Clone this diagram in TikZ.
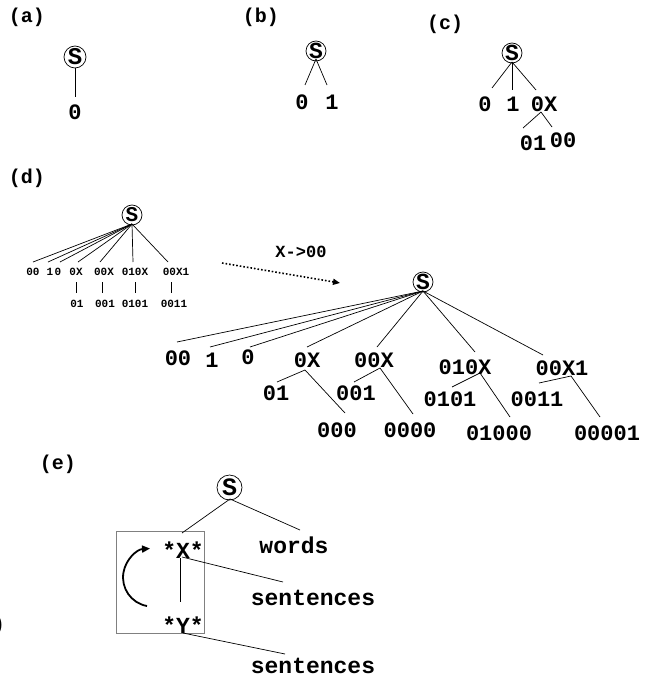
\documentclass[tikz,border=0pt]{standalone}
\usepackage{fontspec}
\newfontfamily\cour{Liberation Mono}
\usetikzlibrary{arrows.meta}
\newcommand{\rootletter}[1]{\makebox[0pt]{\smash{\raisebox{-0.32em}{#1}}}}
\begin{document}
\begin{tikzpicture}[x=1pt,y=-1pt,
  every node/.style={inner sep=0pt,outer sep=0pt},
  lbl/.style={font=\cour\bfseries\fontsize{20}{20}\selectfont},
  tA/.style={font=\cour\bfseries\fontsize{22}{22}\selectfont},
  tB/.style={font=\cour\bfseries\fontsize{22}{22}\selectfont},
  tS/.style={font=\cour\bfseries\fontsize{11}{11}\selectfont},
  tE/.style={font=\cour\bfseries\fontsize{23}{23}\selectfont},
  tR/.style={font=\cour\bfseries\fontsize{17}{17}\selectfont},
  root/.style={circle,draw,line width=0.7pt,minimum size=#1},
  root/.default=21pt,
  sfont/.style={font=\cour\bfseries\fontsize{#1}{#1}\selectfont},
  edge/.style={line width=0.7pt}]
\useasboundingbox (0,0) rectangle (655,680);

% ---------- (a)
\node[lbl] (la) at (27,17) {(a)};
\node[root=22pt,sfont=24] (sa) at (75,57) {\rootletter{S}};
\node[tA] (a0) at (75,112) {0};
\coordinate (a0t) at (75,97);
\draw[edge] (sa.south) -- (a0t);

% ---------- (b)
\node[lbl] (lb) at (261,17) {(b)};
\node[root=20pt,sfont=23] (sb) at (316,51) {\rootletter{S}};
\node[tA] (b0) at (302,102) {0};
\node[tA] (b1) at (332,102) {1};
\coordinate (bo) at (316,59);
\coordinate (b0t) at (305,85);
\coordinate (b1t) at (327,85);
\draw[edge] (bo) -- (b0t);
\draw[edge] (bo) -- (b1t);

% ---------- (c)
\node[lbl] (lc) at (445,24) {(c)};
\node[root=20pt,sfont=23] (sc) at (512,53) {\rootletter{S}};
\node[tA] (c0) at (485,104) {0};
\node[tA] (c1) at (513,104) {1};
\node[tA] (c2) at (544,104) {0X};
\node[tA] (c3) at (533,143) {01};
\node[tA] (c4) at (563,140) {00};
\coordinate (co) at (512,62);
\coordinate (c0t) at (492,88);
\coordinate (c1t) at (512,90);
\coordinate (c2t) at (536,90);
\coordinate (c2b) at (541,112);
\coordinate (c3t) at (523,128);
\coordinate (c4t) at (552,127);
\draw[edge] (co) -- (c0t);
\draw[edge] (co) -- (c1t);
\draw[edge] (co) -- (c2t);
\draw[edge] (c2b) -- (c3t);
\draw[edge] (c2b) -- (c4t);

% ---------- (d) small tree
\node[lbl] (ld) at (27,178) {(d)};
\node[root=20pt,sfont=21] (sd) at (132,215) {\rootletter{S}};
\coordinate (dso) at (132,224);
\foreach \n/\lx/\tx/\t in {1/33/33/00,2/48/50/1,3/60/58/0,4/78/76/0X,5/100/104/00X,6/133/135/010X,7/168/176/00X1}{
  \node[tS] (ds\n) at (\tx,272) {\t};
  \coordinate (ds\n t) at (\lx,262);
  \draw[edge] (dso) -- (ds\n t);
}
\foreach \n/\lx/\tx/\t in {1/76/77/01,2/102/105/001,3/135/135/0101,4/171/174/0011}{
  \node[tS] (dss\n) at (\tx,304) {\t};
  \coordinate (dsa\n) at (\lx,282);
  \coordinate (dsb\n) at (\lx,293);
  \draw[edge] (dsa\n) -- (dsb\n);
}

% arrow
\node[tR] (rule) at (301,252) {X->00};
\coordinate (ar1) at (222,263);
\coordinate (ar2) at (340,283);
\draw[line width=1.6pt,dotted,-{Triangle[length=7pt,width=6pt]}] (ar1) -- (ar2);

% ---------- (d) big tree
\node[root=20pt,sfont=23] (bS) at (423,282) {\rootletter{S}};
\coordinate (bSo) at (423,291);
\foreach \n/\ex/\ey/\tx/\ty/\t in {1/177/342/178/358/00,2/210/347/212/360/1,3/250/347/248/357/0,4/307/347/307/360/0X,5/377/347/374/360/00X,6/475/352/465/367/010X,7/543/355/562/368/00X1}{
  \node[tB] (bt\n) at (\tx,\ty) {\t};
  \coordinate (be\n) at (\ex,\ey);
  \draw[edge] (bSo) -- (be\n);
}
\foreach \n/\vx/\vy/\lx/\ly/\rx/\ry/\ltx/\lty/\lt/\rtx/\rty/\rt in {
  1/305/370/277/382/345/413/276/393/01/337/430/000,
  2/380/368/354/382/413/414/356/393/001/410/430/0000,
  3/480/373/452/387/510/417/450/399/0101/499/433/01000,
  4/571/376/539/383/600/417/537/399/0011/607/433/00001}{
  \coordinate (bv\n) at (\vx,\vy);
  \coordinate (bl\n) at (\lx,\ly);
  \coordinate (br\n) at (\rx,\ry);
  \node[tB] (blt\n) at (\ltx,\lty) {\lt};
  \node[tB] (brt\n) at (\rtx,\rty) {\rt};
  \draw[edge] (bl\n) -- (bv\n) -- (br\n);
}

% ---------- (e)
\node[lbl] (le) at (58,464) {(e)};
\node[root=25pt,sfont=25] (se) at (229.5,487.5) {\rootletter{S}};
\draw[draw=gray,line width=0.8pt] (116,531) rectangle (204,633);
\node[tE] (ex) at (183,550) {*X*};
\node[tE] (ew) at (294,545) {words};
\node[tE] (es1) at (313,598) {sentences};
\node[tE] (ey) at (183,625) {*Y*};
\node[tE] (es2) at (313,666) {sentences};
\coordinate (seo) at (230,499);
\coordinate (ext) at (182,533);
\coordinate (ewt) at (300,530);
\coordinate (exb) at (180,558);
\coordinate (eyt) at (180,602);
\coordinate (exr) at (182,557);
\coordinate (es1t) at (283,582);
\coordinate (eyb) at (183,633);
\coordinate (es2t) at (285,654);
\draw[edge] (seo) -- (ext);
\draw[edge] (seo) -- (ewt);
\draw[edge] (exb) -- (eyt);
\draw[edge] (exr) -- (es1t);
\draw[edge] (eyb) -- (es2t);
\coordinate (arcs) at (147,606);
\draw[line width=1.8pt,-{Triangle[length=8pt,width=7pt]}] (arcs) arc[start angle=100,end angle=266,radius=29];

% text cut off at the left edge, as in the reference
\node[lbl,anchor=east] (cut) at (5,625) {0)};
\end{tikzpicture}
\end{document}
